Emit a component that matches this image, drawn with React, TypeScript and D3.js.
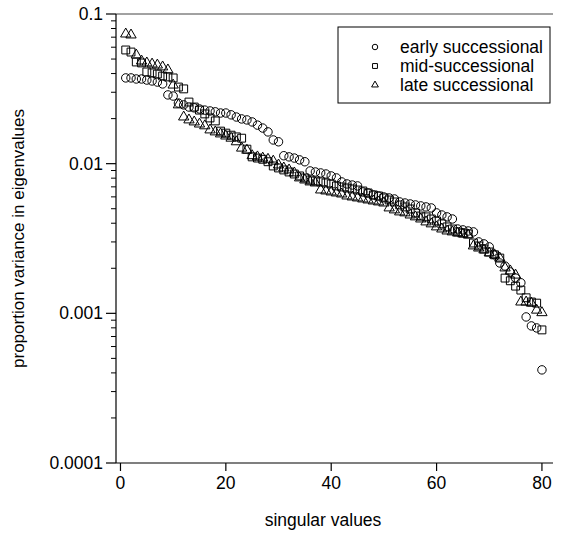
import React from 'react';
import * as d3 from 'd3';

const width = 566, height = 533;
const plot = { left: 116, right: 553, top: 14, bottom: 463 };

const xTicks = [0, 20, 40, 60, 80];
const yTicks = [0.0001, 0.001, 0.01, 0.1];
const yTickLabels = ['0.0001', '0.001', '0.01', '0.1'];

// proportion of variance per singular value (index 1..80)
const early = [
  0.0374, 0.0374, 0.0368, 0.0368, 0.0362, 0.0357, 0.0351, 0.0341, 0.0288, 0.0283,
  0.0254, 0.0247, 0.0239, 0.0236, 0.0232, 0.0228, 0.0225, 0.0222, 0.0218, 0.0218,
  0.0212, 0.0205, 0.0199, 0.0196, 0.0190, 0.0181, 0.0173, 0.0163, 0.0144, 0.0140,
  0.0113, 0.0111, 0.0109, 0.0106, 0.0103, 0.00894, 0.00880, 0.00867, 0.00853, 0.00828,
  0.00803, 0.00755, 0.00732, 0.00720, 0.00710, 0.00647, 0.00637, 0.00618, 0.00608, 0.00599,
  0.00590, 0.00581, 0.00555, 0.00546, 0.00538, 0.00530, 0.00522, 0.00514, 0.00506, 0.00469,
  0.00454, 0.00441, 0.00427, 0.00366, 0.00361, 0.00355, 0.00350, 0.00300, 0.00291, 0.00278,
  0.00246, 0.00217, 0.00207, 0.00189, 0.00172, 0.00160, 0.000946, 0.000824, 0.000799, 0.000419,
];
const mid = [
  0.0575, 0.0557, 0.0478, 0.0471, 0.0410, 0.0404, 0.0397, 0.0385, 0.0380, 0.0374,
  0.0325, 0.0316, 0.0258, 0.0239, 0.0228, 0.0215, 0.0202, 0.0193, 0.0165, 0.0160,
  0.0155, 0.0151, 0.0148, 0.0125, 0.0111, 0.0109, 0.0107, 0.0103, 0.00965, 0.00936,
  0.00908, 0.00880, 0.00853, 0.00828, 0.00803, 0.00778, 0.00766, 0.00755, 0.00743, 0.00732,
  0.00710, 0.00699, 0.00688, 0.00678, 0.00667, 0.00657, 0.00637, 0.00618, 0.00608, 0.00590,
  0.00572, 0.00555, 0.00530, 0.00514, 0.00498, 0.00469, 0.00447, 0.00441, 0.00427, 0.00414,
  0.00396, 0.00378, 0.00366, 0.00350, 0.00344, 0.00339, 0.00295, 0.00282, 0.00269, 0.00257,
  0.00246, 0.00234, 0.00172, 0.00165, 0.00152, 0.00143, 0.00127, 0.00119, 0.00117, 0.000775,
];
const late = [
  0.0735, 0.0724, 0.0532, 0.0485, 0.0471, 0.0463, 0.0456, 0.0443, 0.0423, 0.0335,
  0.0247, 0.0205, 0.0196, 0.0190, 0.0184, 0.0179, 0.0168, 0.0163, 0.0158, 0.0153,
  0.0148, 0.0140, 0.0127, 0.0123, 0.0113, 0.0111, 0.0109, 0.0107, 0.0104, 0.0098,
  0.00936, 0.00908, 0.00867, 0.00803, 0.00778, 0.00755, 0.00743, 0.00667, 0.00657, 0.00647,
  0.00637, 0.00627, 0.00608, 0.00599, 0.00590, 0.00581, 0.00572, 0.00563, 0.00555, 0.00546,
  0.00506, 0.00491, 0.00476, 0.00469, 0.00454, 0.00441, 0.00427, 0.00408, 0.00396, 0.00378,
  0.00366, 0.00355, 0.00350, 0.00344, 0.00339, 0.00334, 0.00282, 0.00273, 0.00265, 0.00253,
  0.00246, 0.00234, 0.00201, 0.00192, 0.00180, 0.00119, 0.00119, 0.00117, 0.00105, 0.00101,
];

const seriesNames = ['early successional', 'mid-successional', 'late successional'];

const font = '"Liberation Sans", Arial, sans-serif';
const fs = 17.5;

export default function App() {
  const x = d3.scaleLinear().domain([-0.85, 82.1]).range([plot.left, plot.right]);
  const y = d3.scaleLog().domain([0.0001, 0.1]).range([plot.bottom, plot.top]);

  const shapes = [
    d3.symbol(d3.symbolCircle, 56)(),
    d3.symbol(d3.symbolSquare, 62)(),
    d3.symbol(d3.symbolTriangle, 46)(),
  ];
  const legendShapes = [
    d3.symbol(d3.symbolCircle, 24)(),
    d3.symbol(d3.symbolSquare, 24)(),
    d3.symbol(d3.symbolTriangle, 20)(),
  ];

  const minorTicks: number[] = [];
  [0.0001, 0.001, 0.01].forEach(d => {
    for (let k = 2; k <= 9; k++) minorTicks.push(d * k);
  });

  const series = [early, mid, late];

  return (
    <svg width={width} height={height} style={{ position: 'absolute', left: 0, top: 0, background: '#fff' }}
      fontFamily={font}>
      {/* frame */}
      <line x1={plot.left} x2={plot.right} y1={plot.top} y2={plot.top} stroke="#444" strokeWidth={1} />
      <line x1={plot.left} x2={plot.right} y1={plot.bottom} y2={plot.bottom} stroke="#000" strokeWidth={1.2} />
      <line x1={plot.left} x2={plot.left} y1={plot.top} y2={plot.bottom} stroke="#000" strokeWidth={1.2} />

      {/* y axis */}
      {yTicks.map((t, i) => (
        <g key={'yt' + i}>
          <line x1={plot.left - 10} x2={plot.left} y1={y(t)} y2={y(t)} stroke="#000" strokeWidth={1.2} />
          <text x={plot.left - 13} y={y(t)} dy="0.35em" textAnchor="end" fontSize={fs}>{yTickLabels[i]}</text>
        </g>
      ))}
      {minorTicks.map((t, i) => (
        <line key={'ym' + i} x1={plot.left - 5} x2={plot.left} y1={y(t)} y2={y(t)} stroke="#000" strokeWidth={1} />
      ))}

      {/* x axis */}
      {xTicks.map(t => (
        <g key={'xt' + t}>
          <line x1={x(t)} x2={x(t)} y1={plot.bottom} y2={plot.bottom + 8} stroke="#000" strokeWidth={1.2} />
          <text x={x(t)} y={plot.bottom + 26} textAnchor="middle" fontSize={fs}>{t}</text>
        </g>
      ))}

      <text x={323} y={526} textAnchor="middle" fontSize={fs}>singular values</text>
      <text transform={`translate(24,${(plot.top + plot.bottom) / 2}) rotate(-90)`} textAnchor="middle" fontSize={17}>
        proportion variance in eigenvalues
      </text>

      {/* points */}
      {series.map((vals, s) => (
        <g key={'s' + s}>
          {vals.map((v, i) => (
            <path key={i} d={shapes[s] as string} transform={`translate(${x(i + 1)},${y(v)})`}
              fill="#fff" fillOpacity={0} stroke="#000" strokeWidth={1} />
          ))}
        </g>
      ))}

      {/* legend */}
      <rect x={338} y={27} width={212} height={76} fill="#fff" stroke="#000" strokeWidth={1} />
      {seriesNames.map((name, i) => (
        <g key={'lg' + i} transform={`translate(0,${47 + i * 19})`}>
          <path d={legendShapes[i] as string} transform="translate(375,0)" fill="none" stroke="#000" strokeWidth={1} />
          <text x={400} y={0} dy="0.35em" fontSize={fs}>{name}</text>
        </g>
      ))}
    </svg>
  );
}
